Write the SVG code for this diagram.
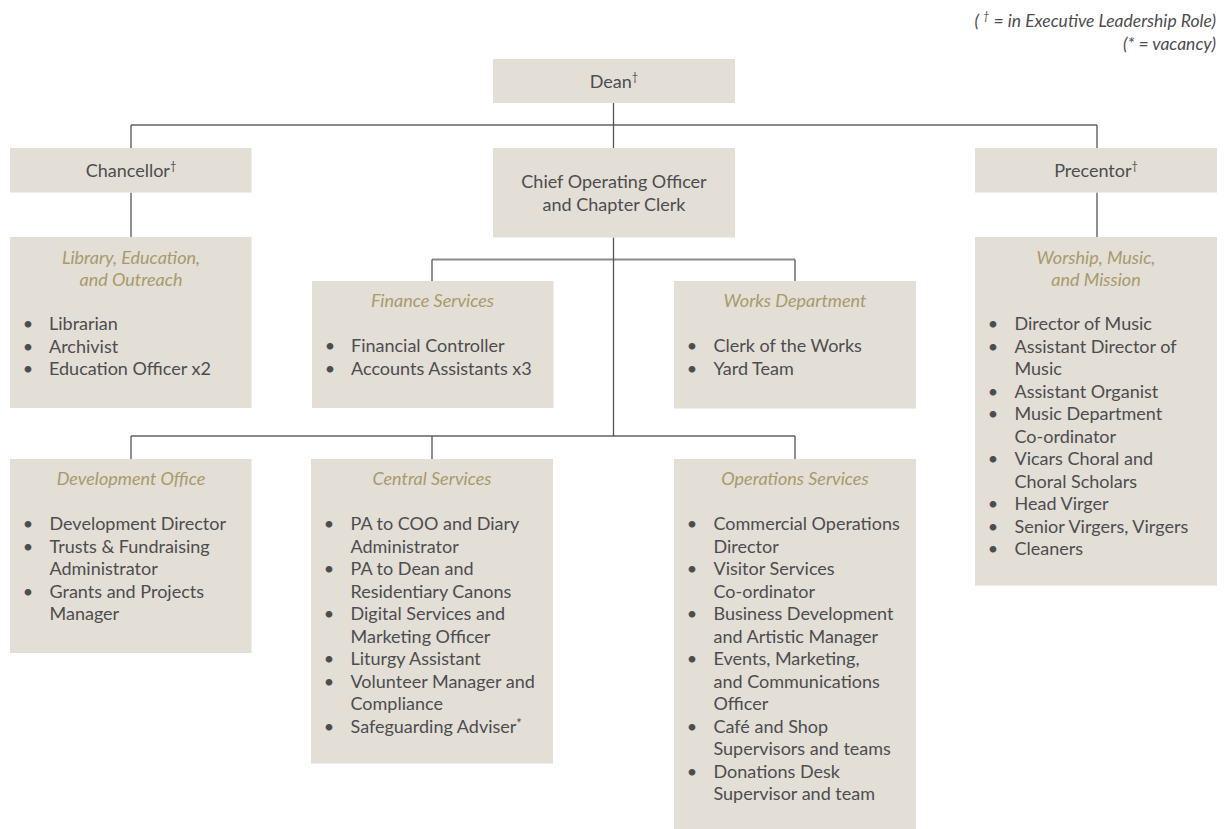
<svg xmlns="http://www.w3.org/2000/svg" width="1225" height="829" viewBox="0 0 1225 829">
<style>
.box{fill:#e3ded6}
.h{stroke:#8a8a8a;stroke-width:2;fill:none}
.v{stroke:#555;stroke-width:1.3;fill:none}
text{font-family:Lato,"Open Sans","Liberation Sans",sans-serif;font-size:18px;fill:#4d4d50}
.c{text-anchor:middle}
.t{font-style:italic;fill:#a89a6c;text-anchor:middle}
.b{text-anchor:middle}
.leg{font-style:italic;font-size:17.5px;text-anchor:end;fill:#4d4d50}
.sup{font-size:11px}
.ast{font-size:13px}
</style>
<rect width="1225" height="829" fill="#fff"/>
<g id="connectors">
<path class="h" d="M131 125H1097M432 259.5H795M131 436H795"/>
<path class="v" d="M613.5 103V148M131 125V148M1097 125V148M131 192.5V237M1097 192.5V237M613.5 237.5V436M432 259.5V281M795 259.5V281M131 436V459M432 436V459M795 436V459"/>
</g>
<g id="legend">
<text class="leg" x="1216" y="27">( <tspan class="sup" dy="-7">†</tspan><tspan dy="7"> = in Executive Leadership Role)</tspan></text>
<text class="leg" x="1216" y="50">(* = vacancy)</text>
</g>
<g id="dean">
<rect class="box" x="493" y="59" width="242" height="44"/>
<text class="c" x="614" y="88">Dean<tspan class="sup" dy="-7">†</tspan></text>
</g>
<g id="chancellor">
<rect class="box" x="10" y="148" width="241.5" height="44.5"/>
<text class="c" x="131" y="177">Chancellor<tspan class="sup" dy="-7">†</tspan></text>
</g>
<g id="coo">
<rect class="box" x="493" y="148" width="242" height="89.5"/>
<text class="c" x="614" y="188">Chief Operating Officer</text>
<text class="c" x="614" y="211">and Chapter Clerk</text>
</g>
<g id="precentor">
<rect class="box" x="975" y="148" width="242" height="44.5"/>
<text class="c" x="1096" y="177">Precentor<tspan class="sup" dy="-7">†</tspan></text>
</g>
<g id="library">
<rect class="box" x="10" y="237" width="241.5" height="171"/>
<text class="t" x="131" y="263.5">Library, Education,</text>
<text class="t" x="131" y="286">and Outreach</text>
<text class="b" x="28" y="330">•</text><text x="49" y="330">Librarian</text>
<text class="b" x="28" y="352.5">•</text><text x="49" y="352.5">Archivist</text>
<text class="b" x="28" y="375">•</text><text x="49" y="375">Education Officer x2</text>
</g>
<g id="finance">
<rect class="box" x="312" y="281" width="241.5" height="127"/>
<text class="t" x="432.5" y="307">Finance Services</text>
<text class="b" x="330" y="352">•</text><text x="351" y="352">Financial Controller</text>
<text class="b" x="330" y="374.5">•</text><text x="351" y="374.5">Accounts Assistants x3</text>
</g>
<g id="works">
<rect class="box" x="674" y="281" width="242" height="127.5"/>
<text class="t" x="795" y="307">Works Department</text>
<text class="b" x="692" y="352">•</text><text x="713.5" y="352">Clerk of the Works</text>
<text class="b" x="692" y="374.5">•</text><text x="713.5" y="374.5">Yard Team</text>
</g>
<g id="worship">
<rect class="box" x="975" y="237" width="242" height="348.5"/>
<text class="t" x="1096" y="263.5">Worship, Music,</text>
<text class="t" x="1096" y="286">and Mission</text>
<text class="b" x="993" y="330">•</text><text x="1014.5" y="330">Director of Music</text>
<text class="b" x="993" y="352.5">•</text><text x="1014.5" y="352.5">Assistant Director of</text>
<text x="1014.5" y="375">Music</text>
<text class="b" x="993" y="397.5">•</text><text x="1014.5" y="397.5">Assistant Organist</text>
<text class="b" x="993" y="420">•</text><text x="1014.5" y="420">Music Department</text>
<text x="1014.5" y="442.5">Co-ordinator</text>
<text class="b" x="993" y="465">•</text><text x="1014.5" y="465">Vicars Choral and</text>
<text x="1014.5" y="487.5">Choral Scholars</text>
<text class="b" x="993" y="510">•</text><text x="1014.5" y="510">Head Virger</text>
<text class="b" x="993" y="532.5">•</text><text x="1014.5" y="532.5">Senior Virgers, Virgers</text>
<text class="b" x="993" y="555">•</text><text x="1014.5" y="555">Cleaners</text>
</g>
<g id="development">
<rect class="box" x="10" y="459" width="241.5" height="194"/>
<text class="t" x="131" y="485">Development Office</text>
<text class="b" x="28" y="530">•</text><text x="49.5" y="530">Development Director</text>
<text class="b" x="28" y="552.5">•</text><text x="49.5" y="552.5">Trusts &amp; Fundraising</text>
<text x="49.5" y="575">Administrator</text>
<text class="b" x="28" y="597.5">•</text><text x="49.5" y="597.5">Grants and Projects</text>
<text x="49.5" y="620">Manager</text>
</g>
<g id="central">
<rect class="box" x="311" y="459" width="242" height="304.5"/>
<text class="t" x="432" y="485">Central Services</text>
<text class="b" x="329" y="530">•</text><text x="350.5" y="530">PA to COO and Diary</text>
<text x="350.5" y="552.5">Administrator</text>
<text class="b" x="329" y="575">•</text><text x="350.5" y="575">PA to Dean and</text>
<text x="350.5" y="597.5">Residentiary Canons</text>
<text class="b" x="329" y="620">•</text><text x="350.5" y="620">Digital Services and</text>
<text x="350.5" y="642.5">Marketing Officer</text>
<text class="b" x="329" y="665">•</text><text x="350.5" y="665">Liturgy Assistant</text>
<text class="b" x="329" y="687.5">•</text><text x="350.5" y="687.5">Volunteer Manager and</text>
<text x="350.5" y="710">Compliance</text>
<text class="b" x="329" y="732.5">•</text><text x="350.5" y="732.5">Safeguarding Adviser<tspan class="ast" dy="-5">*</tspan></text>
</g>
<g id="operations">
<rect class="box" x="674" y="459" width="242" height="370"/>
<text class="t" x="795" y="485">Operations Services</text>
<text class="b" x="692" y="530">•</text><text x="713.5" y="530">Commercial Operations</text>
<text x="713.5" y="552.5">Director</text>
<text class="b" x="692" y="575">•</text><text x="713.5" y="575">Visitor Services</text>
<text x="713.5" y="597.5">Co-ordinator</text>
<text class="b" x="692" y="620">•</text><text x="713.5" y="620">Business Development</text>
<text x="713.5" y="642.5">and Artistic Manager</text>
<text class="b" x="692" y="665">•</text><text x="713.5" y="665">Events, Marketing,</text>
<text x="713.5" y="687.5">and Communications</text>
<text x="713.5" y="710">Officer</text>
<text class="b" x="692" y="732.5">•</text><text x="713.5" y="732.5">Café and Shop</text>
<text x="713.5" y="755">Supervisors and teams</text>
<text class="b" x="692" y="777.5">•</text><text x="713.5" y="777.5">Donations Desk</text>
<text x="713.5" y="800">Supervisor and team</text>
</g>
</svg>
